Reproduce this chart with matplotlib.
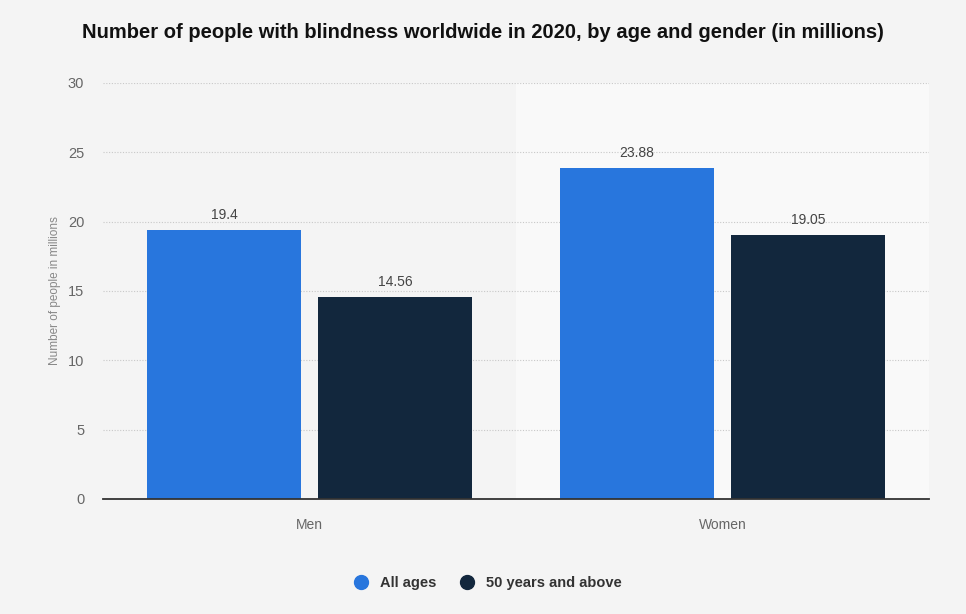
import numpy as np
import matplotlib.pyplot as plt
from matplotlib.lines import Line2D

plt.rcParams['font.family'] = ['Liberation Sans', 'DejaVu Sans']

categories = ['Men', 'Women']
series_names = ['All ages', '50 years and above']
all_ages = [19.4, 23.88]
above_50 = [14.56, 19.05]
value_labels = [['19.4', '23.88'], ['14.56', '19.05']]
colors = ['#2876dd', '#12273d']

fig = plt.figure(figsize=(9.66, 6.14), dpi=100)
fig.patch.set_facecolor('#f4f4f4')
ax = fig.add_axes([103/966, 1 - 499/614, 826/966, 416/614])
ax.set_facecolor('#f4f4f4')

x = np.arange(len(categories))
width = 0.375
offset = 0.207

# lighter band behind the second category
ax.axvspan(0.5, 1.5, color='#f9f9f9', zorder=0)

for i, (vals, off) in enumerate([(all_ages, -offset), (above_50, offset)]):
    bars = ax.bar(x + off, vals, width, color=colors[i], zorder=3)
    for b, lab in zip(bars, value_labels[i]):
        ax.text(b.get_x() + b.get_width() / 2, b.get_height() + 0.6, lab,
                ha='center', va='bottom', fontsize=10, color='#444444', zorder=4)

ax.set_xlim(-0.5, 1.5)
ax.set_ylim(0, 30)
ax.set_yticks([0, 5, 10, 15, 20, 25, 30])
ax.set_xticks(x)
ax.set_xticklabels(categories)
ax.tick_params(axis='both', length=0, colors='#666666')
ax.tick_params(axis='y', pad=13.5, labelsize=10.5)
ax.tick_params(axis='x', pad=14, labelsize=10)
ax.grid(axis='y', linestyle=(0, (1, 1.5)), color='#c8c8c8', linewidth=0.8, zorder=1)
for s in ['top', 'right', 'left']:
    ax.spines[s].set_visible(False)
ax.spines['bottom'].set_color('#333333')
ax.spines['bottom'].set_linewidth(1.3)
ax.spines['bottom'].set_zorder(5)

ax.set_ylabel('Number of people in millions', fontsize=8.5, color='#888888', labelpad=5)

fig.text(483/966, 1 - 33/614, 'Number of people with blindness worldwide in 2020, by age and gender (in millions)',
         ha='center', va='center', fontsize=14.5, fontweight='bold', color='#111111')

handles = [Line2D([], [], marker='o', linestyle='', markersize=10, color=c) for c in colors]
leg = fig.legend(handles, series_names, loc='center', bbox_to_anchor=(484/966, 1 - 583/614),
                 ncol=2, frameon=False, handletextpad=0.3, columnspacing=1.1,
                 prop={'size': 10.5, 'weight': 'bold'})
for t in leg.get_texts():
    t.set_color('#333333')

fig.savefig('out.png', dpi=100, facecolor=fig.get_facecolor())
